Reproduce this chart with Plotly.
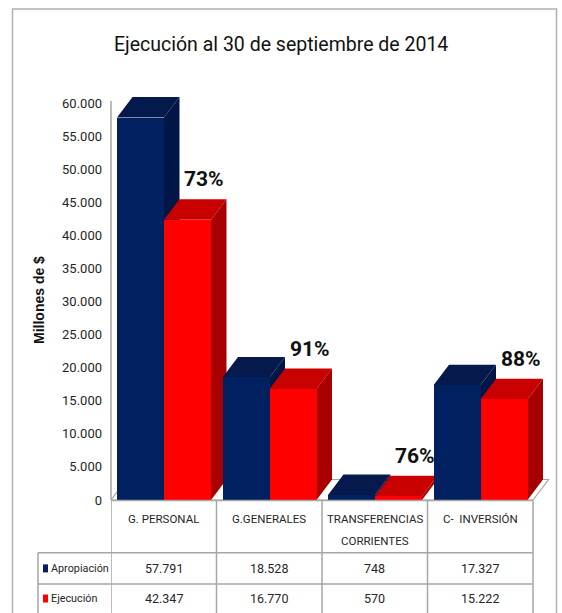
import plotly.graph_objects as go

# ---------------- data ----------------
categories = ["G. PERSONAL", "G.GENERALES", "TRANSFERENCIAS CORRIENTES", "C- \u00a0INVERSIÓN"]
series_names = ["Apropiación", "Ejecución"]
apropiacion = [57791, 18528, 748, 17327]
ejecucion = [42347, 16770, 570, 15222]
y_ticks = list(range(0, 60001, 5000))
title_text = "Ejecución al 30 de septiembre de 2014"
y_title = "Millones de $"

# ---------------- styling / geometry ----------------
W, H = 562, 613
L, T, PW, PH = 111, 85, 441, 415
R = W - L - PW
B = H - T - PH
CAT_PX = 105.5
Y_PER_PX = 60000 / 397
x_range = [-0.5, -0.5 + PW / CAT_PX]
y_range = [0, PH * Y_PER_PX]

GAP = 6 / CAT_PX
BW = 47 / CAT_PX
DX = 15.5 / CAT_PX
DY = 20.5 * Y_PER_PX

FRONT = ["#002060", "#ff0000"]
TOP = ["#06194d", "#c80000"]
SIDE = ["#001646", "#a80000"]
GRID = "#a6a6a6"
NARROW = "Roboto, Lato, sans-serif"
TXT = "#262626"


def px_x(px):
    return (px - L) / PW


def px_y(py):
    return (T + PH - py) / PH


def fmt(v):
    return f"{v:,}".replace(",", ".")


series = [apropiacion, ejecucion]
xs = list(range(len(categories)))

fig = go.Figure()
shapes = []
annotations = []

# floor
shapes.append(dict(type="path", xref="x", yref="y", layer="below",
                   path=f"M -0.5,0 L 3.5,0 L {3.5 + DX},{DY} L {-0.5 + DX},{DY} Z",
                   fillcolor="white", line=dict(color=GRID, width=1.2)))

# 3D faces (top and side) drawn below the front faces (bar traces)
for i in xs:
    for s, vals in enumerate(series):
        v = vals[i]
        x0 = i - 0.5 + GAP + s * BW
        x1 = x0 + BW
        shapes.append(dict(type="path", xref="x", yref="y", layer="below",
                           path=f"M {x1},0 L {x1},{v} L {x1 + DX},{v + DY} L {x1 + DX},{DY} Z",
                           fillcolor=SIDE[s], line=dict(width=0)))
        shapes.append(dict(type="path", xref="x", yref="y", layer="below",
                           path=f"M {x0},{v} L {x1},{v} L {x1 + DX},{v + DY} L {x0 + DX},{v + DY} Z",
                           fillcolor=TOP[s], line=dict(width=0)))

# front faces as bars
for s, vals in enumerate(series):
    fig.add_trace(go.Bar(
        x=xs, y=vals, name=series_names[s],
        width=[BW] * len(xs), offset=[-0.5 + GAP + s * BW] * len(xs),
        marker=dict(color=FRONT[s], line=dict(width=0)),
        showlegend=False, hoverinfo="skip",
    ))

# percentage labels
for i in xs:
    pct = round(100 * ejecucion[i] / apropiacion[i])
    xc = i - 0.5 + GAP + 1.5 * BW + DX
    annotations.append(dict(x=xc, y=ejecucion[i] + DY, xref="x", yref="y",
                            text=f"{pct}%", showarrow=False, yanchor="middle",
                            yshift=20, xshift=1,
                            font=dict(family=NARROW, size=21, color="#111111", weight="bold")))

# value axis line
shapes.append(dict(type="line", xref="paper", yref="y", x0=0, x1=0, y0=0, y1=60300,
                   line=dict(color=GRID, width=1.5)))

# ---------------- data table ----------------
y_top, y_head, y_mid, y_bot = 500.5, 552.7, 584, 618
lx = 38
line = dict(color=GRID, width=1.5)
shapes.append(dict(type="line", xref="x", yref="paper", x0=-0.5, x1=len(xs) - 0.5,
                   y0=px_y(y_top), y1=px_y(y_top), line=line))
for yy in (y_head, y_mid):
    shapes.append(dict(type="line", xref="paper", yref="paper", x0=px_x(lx),
                       x1=px_x(L + len(xs) * CAT_PX), y0=px_y(yy), y1=px_y(yy), line=line))
for k in range(len(xs) + 1):
    shapes.append(dict(type="line", xref="x", yref="paper", x0=k - 0.5, x1=k - 0.5,
                       y0=px_y(y_top), y1=px_y(y_bot), line=line))
shapes.append(dict(type="line", xref="paper", yref="paper", x0=px_x(lx), x1=px_x(lx),
                   y0=px_y(y_head), y1=px_y(y_bot), line=line))

# header labels
for i, c in enumerate(categories):
    lines = c.split(" ") if len(c) > 14 else [c]
    for k, ln in enumerate(lines):
        annotations.append(dict(x=i, y=px_y(519 + 22 * k), xref="x", yref="paper",
                                text=ln, showarrow=False, yanchor="middle",
                                font=dict(family=NARROW, size=11.5, color=TXT)))

# rows
row_centers = [568.4, 598.5]
for s, vals in enumerate(series):
    yc = row_centers[s]
    shapes.append(dict(type="rect", xref="paper", yref="paper",
                       x0=px_x(43), x1=px_x(48), y0=px_y(yc - 4), y1=px_y(yc + 4),
                       fillcolor=FRONT[s], line=dict(width=0)))
    annotations.append(dict(x=px_x(49), y=px_y(yc), xref="paper", yref="paper",
                            text=series_names[s], showarrow=False, xanchor="left",
                            yanchor="middle", font=dict(family=NARROW, size=10.8, color=TXT)))
    for i in xs:
        annotations.append(dict(x=i, y=px_y(yc), xref="x", yref="paper",
                                text=fmt(vals[i]), showarrow=False, yanchor="middle",
                                font=dict(family=NARROW, size=12.5, color=TXT)))

# axis title
annotations.append(dict(x=px_x(29), y=px_y(300), xref="paper", yref="paper",
                        text=y_title, showarrow=False, textangle=-90,
                        font=dict(family="Liberation Sans, Arial, sans-serif", size=14,
                                  color="#111111", weight="bold")))

# title
annotations.append(dict(x=px_x(281), y=px_y(45), xref="paper", yref="paper",
                        text=title_text, showarrow=False, yanchor="middle",
                        font=dict(family=NARROW, size=19.5, color="#111111")))

# outer frame
shapes.append(dict(type="path", xref="paper", yref="paper",
                   path=(f"M {px_x(12.5)},{px_y(625)} L {px_x(12.5)},{px_y(9)} "
                         f"L {px_x(556.5)},{px_y(9)} L {px_x(556.5)},{px_y(625)}"),
                   line=dict(color="#b0b0b0", width=1.5)))

fig.update_layout(
    width=W, height=H,
    margin=dict(l=L, r=R, t=T, b=B, autoexpand=False),
    paper_bgcolor="white", plot_bgcolor="white",
    barmode="overlay", bargap=0,
    showlegend=False,
    xaxis=dict(range=x_range, showgrid=False, zeroline=False, showline=False,
               showticklabels=False, ticks="", fixedrange=True),
    yaxis=dict(range=y_range, showgrid=False, zeroline=False, showline=False,
               tickvals=y_ticks, ticktext=[fmt(t) for t in y_ticks],
               ticks="", ticklabelstandoff=8,
               tickfont=dict(family=NARROW, size=13, color=TXT), fixedrange=True),
    shapes=shapes,
    annotations=annotations,
)

fig.write_html(
    "out.html",
    config={"displayModeBar": False},
    post_script=("document.body.style.margin='0px';document.body.style.padding='0px';"
                 "document.documentElement.style.overflow='hidden';"),
)
